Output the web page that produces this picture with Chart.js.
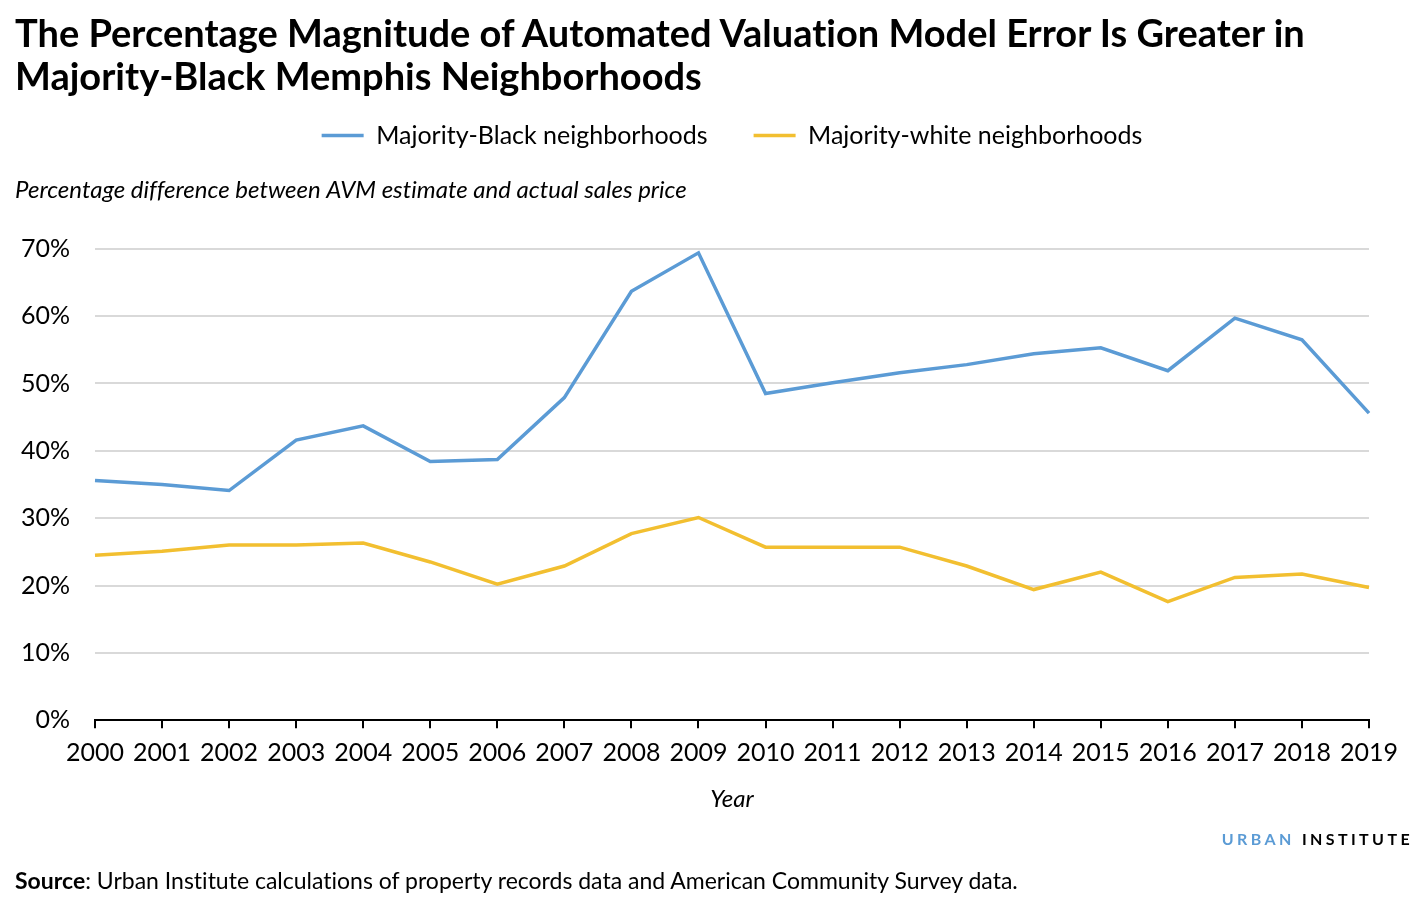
<!DOCTYPE html>
<html>
<head>
<meta charset="utf-8">
<script src="https://cdn.jsdelivr.net/npm/chart.js@4/dist/chart.umd.min.js"></script>
<style>
  body { margin: 0; background: #fff; font-family: Lato, sans-serif; font-variant-ligatures: none; }
  #wrap { position: relative; width: 1427px; height: 900px; }
  #chart { position: absolute; left: 0; top: 0; }
  .title { position: absolute; left: 15px; top: 11px; font-size: 38px; font-weight: bold; line-height: 43px; color: #000; }
  .logo { position: absolute; right: 14px; top: 829px; font-size: 16px; font-weight: bold; letter-spacing: 3.4px; }
  .logo .u { color: #5b9bd5; }
  .source { position: absolute; left: 15px; top: 866px; font-size: 23px; color: #000; }
</style>
</head>
<body>
<div id="wrap">
  <canvas id="chart" width="1427" height="900"></canvas>
  <div class="title">The Percentage Magnitude of Automated Valuation Model Error Is Greater in<br>Majority-Black Memphis Neighborhoods</div>
  <div class="logo"><span class="u">URBAN</span> INSTITUTE</div>
  <div class="source"><b>Source</b>: Urban Institute calculations of property records data and American Community Survey data.</div>
</div>
<script>
const years = ['2000','2001','2002','2003','2004','2005','2006','2007','2008','2009',
               '2010','2011','2012','2013','2014','2015','2016','2017','2018','2019'];
const blackNbhd = [35.6, 35.0, 34.1, 41.6, 43.7, 38.4, 38.7, 47.9, 63.7, 69.4,
                   48.5, 50.1, 51.6, 52.8, 54.4, 55.3, 51.9, 59.7, 56.5, 45.6];
const whiteNbhd = [24.5, 25.1, 26.0, 26.0, 26.3, 23.5, 20.2, 22.9, 27.7, 30.1,
                   25.7, 25.7, 25.7, 22.9, 19.4, 22.0, 17.6, 21.2, 21.7, 19.7];
const yTitle = 'Percentage difference between AVM estimate and actual sales price';

const blue = '#5b9bd5';
const yellow = '#f2bf30';

const data = {
    labels: years,
    datasets: [{
        label: 'Majority-Black neighborhoods',
        data: blackNbhd,
        borderColor: blue,
        backgroundColor: blue,
        borderWidth: 3.5,
        pointRadius: 0,
        tension: 0
    },
    {
        label: 'Majority-white neighborhoods',
        data: whiteNbhd,
        borderColor: yellow,
        backgroundColor: yellow,
        borderWidth: 3.5,
        pointRadius: 0,
        tension: 0
    }]
};

const config = {
    type: 'line',
    data: data,
    options: {
        responsive: false,
        animation: false,
        layout: { padding: { top: 77, left: 15, right: 58, bottom: 86 } },
        plugins: {
            legend: {
                position: 'top',
                weight: 1000,
                fullSize: false,
                labels: {
                    usePointStyle: true,
                    pointStyle: 'line',
                    pointStyleWidth: 42,
                    boxWidth: 42,
                    padding: 46,
                    color: '#000',
                    font: { family: 'Lato', size: 25 }
                }
            },
            // y-axis caption sits under the legend, left aligned
            title: {
                display: true,
                text: yTitle,
                position: 'top',
                align: 'start',
                weight: 500,
                color: '#000',
                font: { family: 'Lato', size: 24, style: 'italic', weight: 'normal' },
                padding: { top: 18, bottom: 44 }
            },
            tooltip: { enabled: false }
        },
        scales: {
            x: {
                offset: false,
                grid: { drawOnChartArea: false, drawTicks: true, tickLength: 8, color: '#000', lineWidth: 2 },
                border: { color: '#000', width: 2 },
                ticks: { color: '#000', font: { family: 'Lato', size: 25 }, maxRotation: 0, autoSkip: false, padding: 10 },
                title: { display: true, text: 'Year', color: '#000', font: { family: 'Lato', size: 24, style: 'italic' }, padding: { top: 7, bottom: 0 } }
            },
            y: {
                min: 0,
                max: 70,
                afterFit: axis => { axis.width = 80; },
                grid: { color: '#d9d9d9', lineWidth: 2, drawTicks: false },
                border: { display: false },
                ticks: { stepSize: 10, color: '#000', font: { family: 'Lato', size: 25 }, padding: 25,
                         callback: v => v + '%' }
            }
        }
    }
};

const myChart = new Chart(document.getElementById('chart'), config);
</script>
</body>
</html>
